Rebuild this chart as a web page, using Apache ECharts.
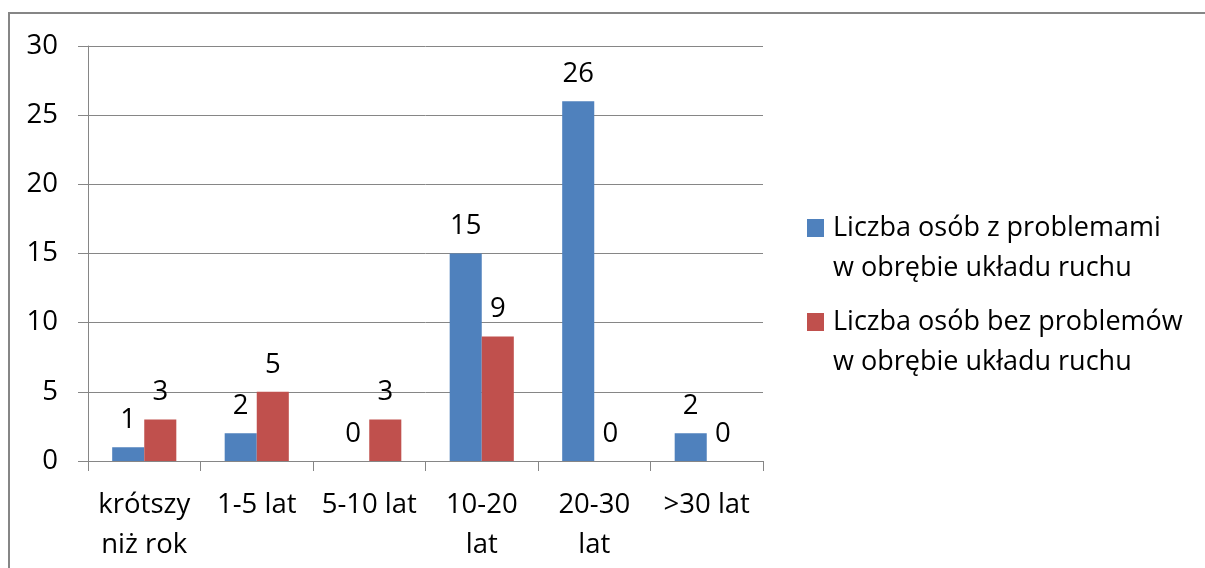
<!DOCTYPE html>
<html>
<head>
<meta charset="utf-8">
<script src="https://cdn.jsdelivr.net/npm/echarts@6/dist/echarts.min.js"></script>
<style>
  html, body { margin: 0; padding: 0; background: #fff; }
  #main { width: 1205px; height: 568px; }
</style>
</head>
<body>
<div id="main"></div>
<script>
// kategorie (czas)
var categories = ['krótszy\nniż rok', '1-5 lat', '5-10 lat', '10-20\nlat', '20-30\nlat', '>30 lat'];
// serie
var seriesNames = ['Liczba osób z problemami\nw obrębie układu ruchu', 'Liczba osób bez problemów\nw obrębie układu ruchu'];
var withProblems = [1, 2, 0, 15, 26, 2];
var withoutProblems = [3, 5, 3, 9, 0, 0];

var font = 'Open Sans';
var gridColor = '#868686';
var fs = 27.5;

var myChart = echarts.init(document.getElementById('main'));

var option = {
    backgroundColor: '#ffffff',
    animation: false,
    textStyle: { fontFamily: font },
    // ramka wykresu
    graphic: [{
        type: 'rect',
        shape: { x: 9, y: 13, width: 1400, height: 800 },
        style: { fill: null, stroke: gridColor, lineWidth: 2 },
        silent: true
    }],
    grid: { left: 88, right: 442, top: 46, bottom: 107, containLabel: false },
    legend: {
        orient: 'vertical',
        left: 807,
        top: 168,
        padding: 0,
        itemWidth: 17,
        itemHeight: 18,
        itemGap: -26,
        icon: 'rect',
        data: seriesNames,
        // pusta linia na początku, żeby pierwsza linia tekstu była przy ikonie
        formatter: function (name) { return '\n' + name; },
        textStyle: {
            fontFamily: font,
            fontSize: 27,
            color: '#000',
            lineHeight: 40,
            padding: [0, 0, 0, 4]
        }
    },
    xAxis: {
        type: 'category',
        data: categories,
        axisLine: { lineStyle: { color: gridColor, width: 1 } },
        axisTick: { show: true, length: 10, lineStyle: { color: gridColor } },
        axisLabel: {
            interval: 0,
            margin: 24,
            fontFamily: font,
            fontSize: fs,
            lineHeight: 40,
            color: '#000'
        }
    },
    yAxis: {
        type: 'value',
        min: 0,
        max: 30,
        interval: 5,
        axisLine: { show: true, lineStyle: { color: gridColor, width: 1 } },
        axisTick: { show: true, length: 10, lineStyle: { color: gridColor } },
        splitLine: { lineStyle: { color: gridColor, width: 1 } },
        axisLabel: {
            margin: 30,
            fontFamily: font,
            fontSize: fs,
            color: '#000'
        }
    },
    series: [{
        name: seriesNames[0],
        type: 'bar',
        data: withProblems,
        barGap: '0%',
        barCategoryGap: '43%',
        itemStyle: { color: '#4F81BD' },
        label: { show: true, position: 'top', distance: 13, fontFamily: font, fontSize: fs, color: '#000' }
    }, {
        name: seriesNames[1],
        type: 'bar',
        data: withoutProblems,
        barGap: '0%',
        barCategoryGap: '43%',
        itemStyle: { color: '#C0504D' },
        label: { show: true, position: 'top', distance: 13, fontFamily: font, fontSize: fs, color: '#000' }
    }]
};

myChart.setOption(option);
</script>
</body>
</html>
